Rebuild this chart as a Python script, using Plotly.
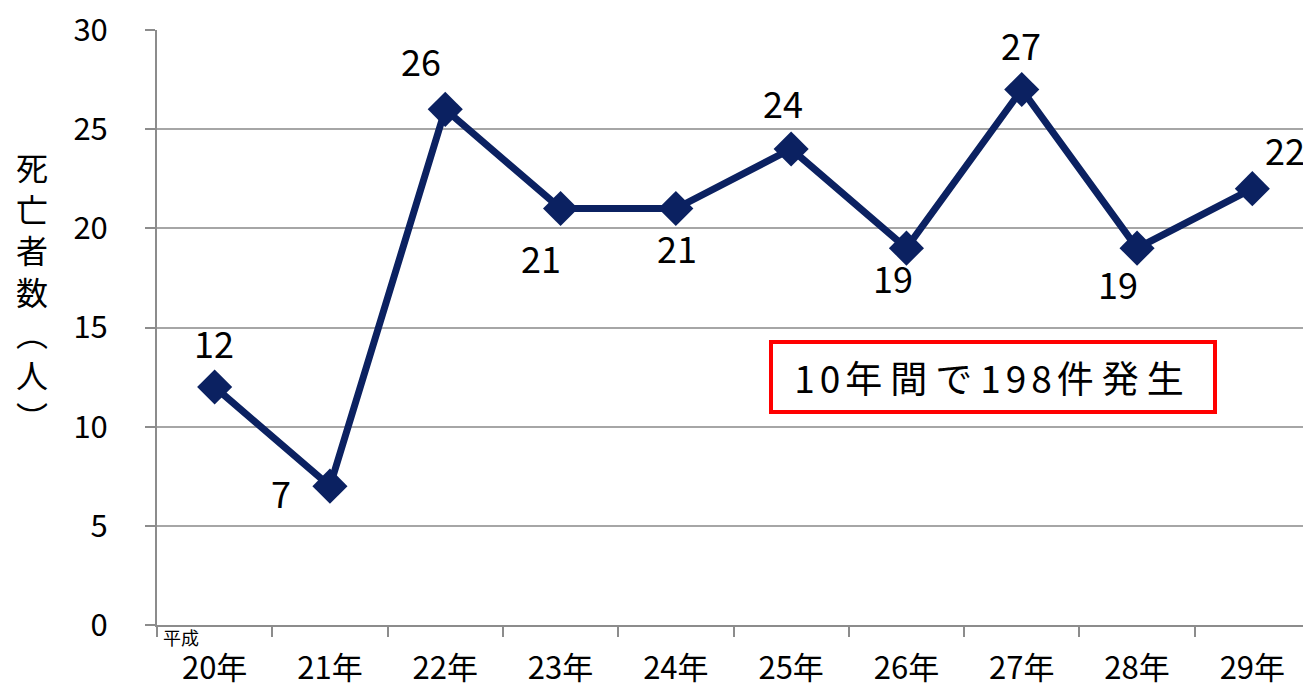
import plotly.graph_objects as go

categories = ["20年", "21年", "22年", "23年", "24年", "25年", "26年", "27年", "28年", "29年"]
deaths = [12, 7, 26, 21, 21, 24, 19, 27, 19, 22]
y_ticks = [0, 5, 10, 15, 20, 25, 30]
note_parts = ["10", "年間で", "198", "件発生"]
era_text = "平成"
y_title = "死亡者数（人）"

# label offsets in pixels relative to the marker (style only)
label_dx = [-1, -49, -24, -20, 1, -8, -13, -1, -19, 33]
label_dy = [-45, 6, -49, 48, 38, -47, 29, -46, 35, -40]

FONT = "Noto Sans CJK JP"
NAVY = "#0B2161"
W, H = 1303, 681
L, R, T, B = 149, 1, 22, 64
PW, PH = W - L - R, H - T - B

fig = go.Figure()
fig.add_trace(go.Scatter(
    x=categories, y=deaths, mode="lines+markers",
    line=dict(color=NAVY, width=7),
    marker=dict(symbol="diamond", size=27, color=NAVY),
    cliponaxis=False, showlegend=False, hoverinfo="x+y",
))

for c, v, dx, dy in zip(categories, deaths, label_dx, label_dy):
    fig.add_annotation(
        x=c, y=v, xref="x", yref="y", text=str(v), showarrow=False,
        xanchor="center", yanchor="middle", xshift=dx, yshift=-dy,
        font=dict(size=36, family=FONT, color="#000000"),
    )

fig.update_layout(
    width=W, height=H,
    margin=dict(l=L, r=R, t=T, b=B, autoexpand=False),
    paper_bgcolor="white", plot_bgcolor="white",
    font=dict(family=FONT, color="#000000"),
    xaxis=dict(
        type="category", tickson="boundaries", ticks="outside", ticklen=10,
        tickcolor="#8C8C8C", tickwidth=2, showgrid=False,
        showline=True, linecolor="#8C8C8C", linewidth=2,
        tickfont=dict(size=31, family=FONT), ticklabelstandoff=15,
        ticklabeloverflow="allow", range=[-0.5, 9.5],
    ),
    yaxis=dict(
        range=[0, 30], tickvals=y_ticks, ticks="outside", ticklen=10,
        tickcolor="#8C8C8C", tickwidth=2,
        showgrid=True, gridcolor="#A6A6A6", gridwidth=2,
        showline=True, linecolor="#8C8C8C", linewidth=2, zeroline=False,
        tickfont=dict(size=31, family=FONT), ticklabelstandoff=31,
        ticklabeloverflow="allow",
    ),
)

# vertical y-axis title (stacked characters)
vert = "<br>".join(y_title.replace("（", "︵").replace("）", "︶"))
fig.add_annotation(
    xref="paper", yref="paper", x=(24 - L) / PW, y=(H - B - 283) / PH,
    xanchor="center", yanchor="middle",
    text=vert, showarrow=False, font=dict(size=32, family=FONT), align="center",
)

# era label
fig.add_annotation(
    xref="paper", yref="paper", x=(153 - L) / PW, y=0, yshift=3, xanchor="left", yanchor="top",
    text=era_text, showarrow=False, font=dict(size=18, family=FONT),
)

# boxed note: digits and kanji runs with their own spacing
runs = []
for p in note_parts:
    ls = 5 if p.isdigit() else 8
    runs.append('<span style="letter-spacing:%dpx">%s</span>' % (ls, p))
fig.add_annotation(
    xref="paper", yref="paper", x=(985 - L) / PW, y=(H - B - 369) / PH,
    xanchor="center", yanchor="middle",
    text="".join(runs), showarrow=False,
    font=dict(size=37, family=FONT),
    bordercolor="#FF0000", borderwidth=4, borderpad=12, bgcolor="white",
    width=416, height=42,
)

fig.write_html("out.html")
